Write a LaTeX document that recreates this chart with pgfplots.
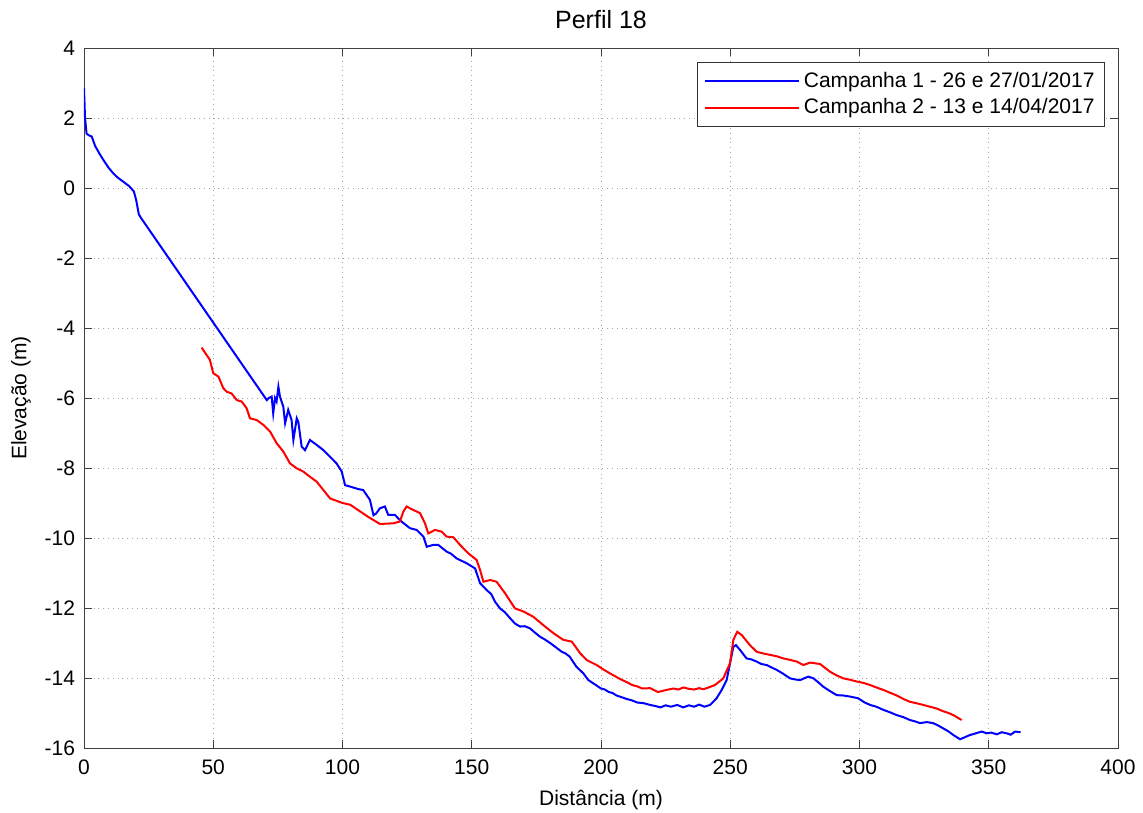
\documentclass[border=0pt]{standalone}
\usepackage{fontspec}
\setmainfont{Liberation Sans}
\usepackage{pgfplots}
\pgfplotsset{compat=1.18}

\begin{document}
\begin{tikzpicture}
\begin{axis}[
    scale only axis,
    width=517pt, height=350pt,
    xmin=0, xmax=400, ymin=-16, ymax=4,
    xtick distance=50, ytick distance=2,
    grid=major,
    major grid style={dotted, gray!70},
    tick align=inside,
    major tick length=4pt,
    axis line style={black!75},
    every tick/.style={black!75},
    /pgf/number format/assume math mode=true,
    tick label style={font=\fontsize{10.5}{12}\selectfont},
    yticklabel style={xshift=-1pt},
    xticklabel style={yshift=-2.5pt},
    label style={font=\fontsize{10.5}{12}\selectfont},
    title style={font=\fontsize{12.5}{14}\selectfont},
    xlabel style={at={(axis description cs:0.5,-0.0743)}, anchor=center},
    ylabel style={at={(axis description cs:-0.061,0.5)}, anchor=center},
    title={Perfil 18},
    xlabel={Distância (m)},
    ylabel={Elevação (m)},
    legend style={at={(0.9874,0.98)}, anchor=north east,
        font=\fontsize{10.5}{12}\selectfont, draw=black!80,
        cells={anchor=west}, row sep=0pt, inner ysep=3pt},
    legend image code/.code={\path (0pt,0pt) -- (47pt,0pt);
        \draw[#1] (3pt,0pt) -- (42pt,0pt);},
]
\addplot[blue, line width=1pt] coordinates {
(0,2.85) (0.4,2.0) (1.0,1.55) (2,1.5) (3,1.47) (4.3,1.2) (6,0.98) (7.5,0.8)
(9.5,0.58) (11.3,0.42) (13,0.3) (15.2,0.18) (17.5,0.05) (19.3,-0.1)
(20.2,-0.35) (21.2,-0.75) (22,-0.85) (70.7,-6.06) (71.5,-6.0) (72.6,-5.96)
(73.2,-6.44) (73.9,-6.0) (74.5,-6.1) (75.2,-5.68) (75.8,-5.96) (77.1,-6.25)
(77.8,-6.72) (79.0,-6.34) (80.3,-6.63) (81.0,-7.2) (82.3,-6.58) (82.9,-6.68)
(84.2,-7.39) (85.5,-7.49) (87.4,-7.2) (90,-7.34) (92.6,-7.49) (95.2,-7.68)
(97.7,-7.87) (99.7,-8.1) (101,-8.49) (102.9,-8.53) (106,-8.6) (108,-8.63)
(110.6,-8.91) (112,-9.35) (113,-9.3) (114.5,-9.15) (116.4,-9.1) (117.7,-9.34)
(120.3,-9.34) (122.2,-9.49) (124,-9.6) (126.1,-9.72) (128.7,-9.77)
(131.3,-9.96) (132.6,-10.25) (135,-10.2) (137.1,-10.2) (140.3,-10.39)
(142,-10.45) (144.1,-10.58) (146,-10.65) (148.0,-10.72) (151.3,-10.87)
(153.2,-11.29) (155.8,-11.49) (157.5,-11.6) (159,-11.82) (160.9,-12.01)
(162.8,-12.12) (164.8,-12.29) (166.8,-12.45) (168.7,-12.53) (170.5,-12.52)
(172.5,-12.58) (174.4,-12.7) (176.4,-12.82) (178.3,-12.9) (180.3,-13.0)
(182.5,-13.12) (184.8,-13.25) (186.3,-13.3) (187.9,-13.39) (190.5,-13.68)
(193.2,-13.87) (195.1,-14.06) (198,-14.2) (200,-14.3) (201.5,-14.33)
(203,-14.4) (204.5,-14.43) (206,-14.5) (208,-14.55) (210,-14.6) (212,-14.64)
(214,-14.7) (216.5,-14.72) (219,-14.77) (221,-14.8) (223,-14.84) (225,-14.78)
(227,-14.82) (229.5,-14.77) (231.8,-14.84) (234,-14.78) (236,-14.82)
(238,-14.76) (240,-14.82) (242.2,-14.77) (244.7,-14.58) (246.7,-14.34)
(248.6,-14.06) (249.9,-13.58) (251.2,-13.11) (252.2,-13.06) (253.8,-13.2)
(256.3,-13.44) (258.2,-13.47) (260.2,-13.53) (262,-13.6) (264.1,-13.63)
(266,-13.7) (268,-13.77) (270.5,-13.88) (273.1,-14.01) (275,-14.04)
(277,-14.06) (280.2,-13.96) (282.2,-14.01) (284,-14.12) (286.0,-14.25)
(288.5,-14.37) (291.2,-14.49) (293.7,-14.5) (296.3,-14.53) (299.5,-14.58)
(302,-14.7) (304.1,-14.77) (306.5,-14.82) (309.2,-14.91) (311.8,-14.98)
(314.4,-15.06) (317,-15.12) (319.5,-15.2) (321.5,-15.24) (323.4,-15.29)
(326,-15.26) (328.5,-15.29) (330.5,-15.36) (332.4,-15.44) (334.3,-15.52)
(336.3,-15.63) (338.9,-15.75) (340.5,-15.7) (342.7,-15.63) (345,-15.58)
(347.3,-15.53) (349.2,-15.58) (351,-15.56) (353.1,-15.61) (355,-15.55)
(356.9,-15.58) (358.5,-15.62) (360.2,-15.53) (362.3,-15.55)
};
\addlegendentry{Campanha 1 - 26 e 27/01/2017}
\addplot[red, line width=1pt] coordinates {
(45.5,-4.56) (48.7,-4.91) (50,-5.29) (52,-5.39) (53.9,-5.72) (55.2,-5.82)
(57.1,-5.87) (59.1,-6.06) (61,-6.1) (62.9,-6.29) (64.2,-6.58) (66.8,-6.63)
(69.4,-6.77) (72,-6.96) (74.5,-7.29) (77.1,-7.53) (79.7,-7.87) (82.3,-8.01)
(84.8,-8.1) (87.4,-8.25) (90,-8.39) (92.6,-8.63) (95.2,-8.87) (100,-9.0)
(103,-9.05) (106,-9.2) (110,-9.4) (114.5,-9.6) (119.7,-9.58) (122.2,-9.53)
(123.5,-9.25) (124.8,-9.1) (127.4,-9.2) (130,-9.29) (131.9,-9.58)
(133.2,-9.87) (135.8,-9.77) (138.4,-9.82) (140.3,-9.96) (142.9,-9.98)
(145.5,-10.2) (148.7,-10.44) (151.9,-10.63) (153.2,-10.91) (154.5,-11.25)
(157.1,-11.2) (159.6,-11.25) (162.9,-11.58) (166.7,-12.01) (170,-12.1)
(173.8,-12.25) (177.7,-12.49) (181.6,-12.72) (185.4,-12.91) (188.7,-12.96)
(191.9,-13.29) (194.5,-13.49) (198.3,-13.63) (201,-13.76) (203.5,-13.87)
(205.5,-13.95) (207.4,-14.03) (210,-14.12) (212,-14.2) (214,-14.24)
(216,-14.3) (219,-14.29) (222,-14.4) (225.4,-14.34) (228,-14.3)
(230,-14.33) (231.8,-14.27) (234,-14.31) (236,-14.33) (238,-14.29)
(239.6,-14.32) (242,-14.26) (244.1,-14.2) (247.3,-14.01) (249.9,-13.58)
(251.2,-12.91) (252.7,-12.68) (254.4,-12.77) (257.6,-13.06) (260.2,-13.25)
(262.8,-13.3) (265.4,-13.34) (268,-13.38) (270.5,-13.44) (273,-13.48)
(275.7,-13.53) (278.3,-13.63) (280.9,-13.56) (284.7,-13.6) (288.6,-13.82)
(291,-13.92) (293.7,-14.01) (296.3,-14.05) (298.9,-14.1) (301.5,-14.14)
(304.1,-14.2) (306.5,-14.27) (309.2,-14.34) (311.8,-14.42) (314.4,-14.5)
(317,-14.6) (319.5,-14.68) (322,-14.72) (324.7,-14.77) (327.2,-14.82)
(329.8,-14.87) (332,-14.94) (334.4,-15.0) (336.3,-15.06) (339.5,-15.2)
};
\addlegendentry{Campanha 2 - 13 e 14/04/2017}
\end{axis}
\pgfresetboundingbox
\path[use as bounding box] ([shift={(-42pt,-32pt)}]current axis.south west)
    rectangle ([shift={(12.5pt,24pt)}]current axis.north east);
\end{tikzpicture}
\end{document}
